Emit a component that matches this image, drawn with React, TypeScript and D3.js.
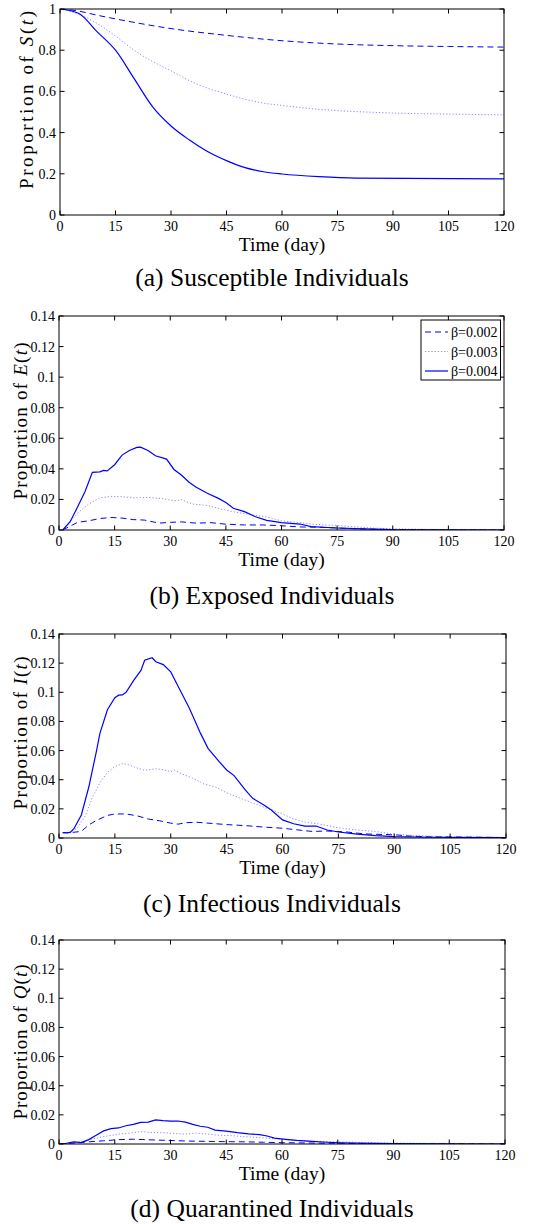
import React from 'react';
import * as d3 from 'd3';

// ---------- data ----------
const X_TICKS = [0, 15, 30, 45, 60, 75, 90, 105, 120];
const S_TICKS = [0, 0.2, 0.4, 0.6, 0.8, 1];
const SMALL_TICKS = [0, 0.02, 0.04, 0.06, 0.08, 0.1, 0.12, 0.14];
const LEGEND_LABELS = ['β=0.002', 'β=0.003', 'β=0.004'];

// Susceptible S(t): [day, proportion]
const S_B002 = [[0,1],[5,0.99],[10,0.97],[15,0.952],[20,0.935],[30,0.905],[45,0.872],[60,0.846],[75,0.83],[90,0.822],[105,0.818],[120,0.815]];
const S_B003 = [[0,1],[5,0.975],[10,0.93],[15,0.869],[20,0.8],[25,0.745],[30,0.7],[35,0.652],[40,0.615],[45,0.587],[50,0.562],[55,0.543],[60,0.532],[70,0.513],[75,0.507],[90,0.495],[105,0.49],[120,0.486]];
const S_B004 = [[0,1],[5,0.979],[10,0.89],[15,0.8],[20,0.663],[25,0.526],[30,0.432],[35,0.364],[40,0.307],[45,0.264],[50,0.23],[55,0.21],[60,0.199],[70,0.186],[80,0.179],[120,0.175]];

// Exposed E(t)
const E_B002 = [[1,0],[3,0.0025],[5,0.005],[8,0.006],[11,0.0075],[14,0.0082],[17,0.0078],[20,0.0068],[23,0.0065],[27,0.0045],[30,0.005],[33,0.0053],[37,0.0045],[41,0.0048],[45,0.0038],[50,0.0033],[55,0.0033],[60,0.0028],[65,0.002],[70,0.0018],[75,0.0013],[80,0.0008],[90,0.0003],[120,0]];
const E_B003 = [[1,0],[3,0.005],[5,0.011],[8,0.017],[11,0.021],[14,0.022],[17,0.0218],[20,0.021],[24,0.0213],[28,0.0205],[31,0.019],[33,0.0198],[36,0.017],[40,0.016],[44,0.0135],[48,0.0115],[52,0.01],[56,0.0085],[60,0.006],[65,0.0048],[70,0.0035],[75,0.003],[80,0.002],[85,0.0012],[90,0.0008],[100,0.0004],[120,0.0002]];
const E_B004 = [[1,0],[3,0.0054],[5,0.015],[7,0.025],[9,0.0377],[11,0.038],[12,0.039],[13,0.0387],[15,0.0427],[17,0.049],[19,0.052],[21,0.054],[22,0.0542],[24,0.052],[26,0.0486],[29,0.0464],[31,0.0396],[33,0.036],[35,0.0314],[37,0.028],[40,0.024],[43,0.0207],[45,0.018],[47,0.0142],[50,0.012],[53,0.0087],[56,0.0063],[60,0.0048],[65,0.0039],[68,0.0022],[75,0.0013],[80,0.0009],[90,0.0002],[120,0]];

// Infectious I(t)
const I_B002 = [[1,0.0037],[3,0.0037],[6,0.0045],[8,0.009],[10,0.012],[13,0.0155],[15,0.0165],[18,0.0165],[21,0.0152],[24,0.013],[27,0.0118],[30,0.0102],[32,0.0095],[34,0.0105],[37,0.0108],[40,0.0102],[45,0.0092],[50,0.0085],[55,0.0075],[60,0.0067],[65,0.0053],[68,0.0045],[72,0.0048],[77,0.0042],[82,0.0028],[87,0.0024],[90,0.0022],[95,0.0012],[100,0.0008],[105,0.0008],[110,0.0006],[120,0.0003]];
const I_B003 = [[1,0.0037],[3,0.004],[5,0.007],[7,0.015],[9,0.028],[11,0.038],[13,0.045],[15,0.049],[17,0.0512],[19,0.05],[21,0.048],[23,0.0465],[26,0.0475],[28,0.047],[30,0.0455],[31,0.0465],[33,0.044],[36,0.041],[39,0.037],[42,0.035],[45,0.031],[48,0.028],[51,0.025],[54,0.022],[57,0.0195],[60,0.0165],[63,0.013],[66,0.011],[70,0.0095],[75,0.007],[80,0.0055],[85,0.0045],[90,0.0025],[95,0.0018],[100,0.0012],[110,0.0006],[120,0.0004]];
const I_B004 = [[1,0.0037],[2,0.0035],[3,0.0039],[4,0.0064],[6,0.0158],[8,0.035],[10,0.059],[11,0.072],[13,0.088],[15,0.0963],[16,0.098],[17,0.0982],[18,0.1],[20,0.108],[22,0.115],[23,0.122],[25,0.1237],[26,0.121],[28,0.119],[30,0.114],[32,0.104],[35,0.089],[38,0.0718],[40,0.0615],[43,0.0524],[45,0.0467],[47,0.0428],[50,0.033],[52,0.0272],[55,0.0227],[57,0.0192],[60,0.0124],[63,0.0098],[66,0.0082],[69,0.0082],[72,0.0055],[75,0.0041],[80,0.0027],[85,0.0016],[90,0.0009],[100,0.0005],[120,0.0002]];

// Quarantined Q(t)
const Q_B002 = [[0,0],[5,0.0008],[8,0.0015],[12,0.0022],[16,0.003],[20,0.0033],[25,0.0028],[30,0.0024],[35,0.002],[40,0.0018],[45,0.0016],[50,0.0015],[55,0.0012],[60,0.0009],[70,0.0006],[80,0.0004],[100,0.0002],[120,0.0001]];
const Q_B003 = [[0,0],[4,0.001],[7,0.002],[10,0.004],[13,0.0055],[16,0.0068],[19,0.0075],[22,0.0085],[25,0.0078],[28,0.0078],[31,0.0072],[34,0.0068],[37,0.0075],[40,0.0068],[43,0.006],[46,0.0058],[50,0.005],[55,0.0042],[60,0.0032],[65,0.0022],[70,0.0018],[75,0.0015],[80,0.0012],[90,0.0006],[100,0.0004],[120,0.0002]];
const Q_B004 = [[0,0],[2,0.0005],[4,0.0015],[6,0.001],[8,0.003],[10,0.006],[12,0.009],[14,0.0105],[16,0.011],[18,0.0125],[20,0.0135],[22,0.0148],[24,0.015],[26,0.0165],[28,0.016],[30,0.0157],[32,0.0158],[34,0.015],[36,0.0135],[38,0.0122],[40,0.0115],[42,0.0095],[45,0.0088],[48,0.0078],[51,0.007],[54,0.0064],[56,0.0055],[58,0.004],[61,0.0032],[64,0.0025],[68,0.0018],[72,0.0012],[76,0.0008],[80,0.0006],[90,0.0003],[120,0]];

// ---------- layout / style ----------
const FONT = 'Liberation Serif';
const STYLES = [
  { stroke: '#0000ff', dash: '6,4', width: 1 },
  { stroke: '#8a8aff', dash: '1.2,2', width: 1 },
  { stroke: '#0000ff', dash: null, width: 1.2 },
];

const PANELS = [
  { caption: '(a) Susceptible Individuals', v: 'S', yMax: 1, yTicks: S_TICKS, series: [S_B002, S_B003, S_B004], smooth: true,
    top: 9, bottom: 215, left: 60, right: 504, ylx: 33, lyc: 100, lyLen: 178, capY: 286, legend: false },
  { caption: '(b) Exposed Individuals', v: 'E', yMax: 0.14, yTicks: SMALL_TICKS, series: [E_B002, E_B003, E_B004], smooth: false,
    top: 316, bottom: 530, left: 59, right: 504, ylx: 27, lyc: 421, lyLen: 157, capY: 604, legend: true },
  { caption: '(c) Infectious Individuals', v: 'I', yMax: 0.14, yTicks: SMALL_TICKS, series: [I_B002, I_B003, I_B004], smooth: false,
    top: 634, bottom: 838, left: 59, right: 506, ylx: 27, lyc: 733, lyLen: 153, capY: 912, legend: false },
  { caption: '(d) Quarantined Individuals', v: 'Q', yMax: 0.14, yTicks: SMALL_TICKS, series: [Q_B002, Q_B003, Q_B004], smooth: false,
    top: 940, bottom: 1144, left: 59, right: 505, ylx: 27, lyc: 1042, lyLen: 155, capY: 1217, legend: false },
];

const TL = 4.5;

function Panel({ p }: { p: any }) {
  const x = d3.scaleLinear().domain([0, 120]).range([p.left, p.right]);
  const y = d3.scaleLinear().domain([0, p.yMax]).range([p.bottom, p.top]);
  const line = d3.line<number[]>()
    .x((d) => x(d[0]))
    .y((d) => y(d[1]))
    .curve(p.smooth ? d3.curveMonotoneX : d3.curveLinear);
  const cx = (p.left + p.right) / 2;
  return (
    <g>
      <defs>
        <clipPath id={`clip-${p.v}`}>
          <rect x={p.left} y={p.top} width={p.right - p.left} height={p.bottom - p.top} />
        </clipPath>
      </defs>
      <g clipPath={`url(#clip-${p.v})`}>
        {p.series.map((s: number[][], i: number) => (
          <path key={i} d={line(s) || ''} fill="none" stroke={STYLES[i].stroke}
            strokeWidth={STYLES[i].width} strokeDasharray={STYLES[i].dash || undefined} />
        ))}
      </g>
      {X_TICKS.map((t) => (
        <g key={'x' + t}>
          <line x1={x(t)} x2={x(t)} y1={p.bottom} y2={p.bottom - TL} stroke="#000" />
          <line x1={x(t)} x2={x(t)} y1={p.top} y2={p.top + TL} stroke="#000" />
          <text x={x(t)} y={p.bottom + 15.5} textAnchor="middle" fontSize={14} fontFamily={FONT}>{String(t)}</text>
        </g>
      ))}
      {p.yTicks.map((t: number) => (
        <g key={'y' + t}>
          <line x1={p.left} x2={p.left + TL} y1={y(t)} y2={y(t)} stroke="#000" />
          <line x1={p.right} x2={p.right - TL} y1={y(t)} y2={y(t)} stroke="#000" />
          <text x={p.left - 4} y={y(t) + 5} textAnchor="end" fontSize={14} fontFamily={FONT}>{String(t)}</text>
        </g>
      ))}
      <rect x={p.left} y={p.top} width={p.right - p.left} height={p.bottom - p.top} fill="none" stroke="#000" strokeWidth={1} />
      <text x={cx} y={p.bottom + 35.5} textAnchor="middle" fontSize={19.5} fontFamily={FONT}>Time (day)</text>
      <text transform={`translate(${p.ylx},${p.lyc}) rotate(-90)`} textAnchor="middle" fontSize={19} fontFamily={FONT}
        textLength={p.lyLen} lengthAdjust="spacing">
        Proportion of <tspan fontStyle="italic">{p.v}</tspan>(<tspan fontStyle="italic">t</tspan>)
      </text>
      <text x={272} y={p.capY} textAnchor="middle" fontSize={25.5} fontFamily={FONT}>{p.caption}</text>
      {p.legend && (
        <g>
          <rect x={421} y={320} width={79.5} height={60} fill="#fff" stroke="#000" strokeWidth={1} />
          {LEGEND_LABELS.map((lab, i) => (
            <g key={lab}>
              <line x1={425} x2={448} y1={332 + i * 19.5} y2={332 + i * 19.5} stroke={STYLES[i].stroke}
                strokeWidth={STYLES[i].width} strokeDasharray={STYLES[i].dash || undefined} />
              <text x={451} y={337 + i * 19.5} fontSize={14} fontFamily={FONT}>{lab}</text>
            </g>
          ))}
        </g>
      )}
    </g>
  );
}

export default function App() {
  return (
    <svg width={541} height={1224} style={{ position: 'absolute', left: 0, top: 0, background: '#fff' }}>
      <rect x={0} y={0} width={541} height={1224} fill="#fff" />
      {PANELS.map((p) => <Panel key={p.v} p={p} />)}
    </svg>
  );
}
